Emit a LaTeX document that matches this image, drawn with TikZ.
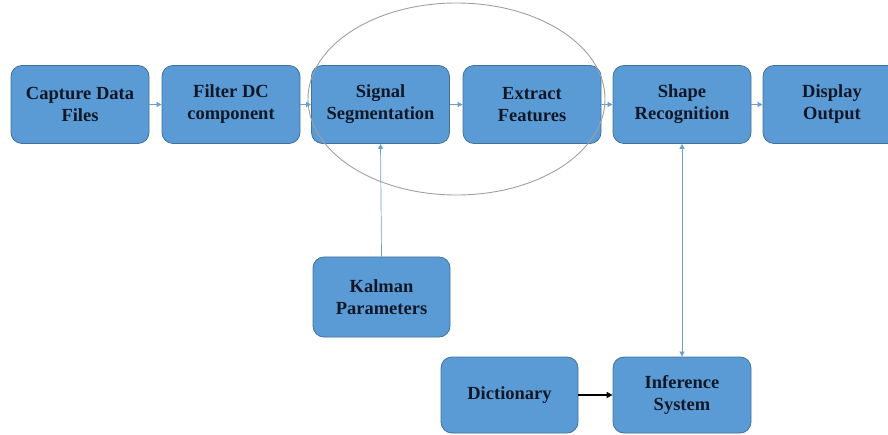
\documentclass[tikz,border=0pt]{standalone}
\usepackage{fontspec}
\setmainfont{Liberation Serif}
\usetikzlibrary{arrows.meta,shapes.geometric}
\definecolor{boxfill}{HTML}{5B9BD5}
\definecolor{boxline}{HTML}{41719C}
\definecolor{txt}{HTML}{101828}
\definecolor{conn}{HTML}{6A9FD0}
\definecolor{ell}{HTML}{A0A0A0}
\begin{document}
\begin{tikzpicture}[x=1pt,y=-1pt,
  blk/.style={draw=boxline,line width=0.8pt,fill=boxfill,rounded corners=11pt,
    minimum width=138pt,minimum height=78pt,inner sep=0pt,align=center,
    font=\fontsize{18.5}{22}\selectfont\bfseries,text=txt},
  flow/.style={draw=conn,line width=0.7pt,-{Triangle[length=5pt,width=5pt]}},
  both/.style={draw=conn,line width=0.7pt,{Triangle[length=5pt,width=5pt]}-{Triangle[length=5pt,width=5pt]}},
  blk2/.style={-{Triangle[length=6pt,width=6pt]},line width=1.1pt,draw=black}]
\useasboundingbox (0,0) rectangle (888,435);
\node[blk] (cap) at (80,104.5) {Capture Data\\Files};
\node[blk] (fil) at (231,104.5) {Filter DC\\component};
\node[blk] (sig) at (380.5,104.5) {Signal\\Segmentation};
\node[blk] (ext) at (532,104.5) {Extract\\Features};
\node[blk] (shp) at (682,104.5) {Shape\\Recognition};
\node[blk] (dis) at (832,104.5) {Display\\Output};
\node[blk,minimum width=137pt,minimum height=80pt] (kal) at (381.5,297) {Kalman\\Parameters};
\node[blk,minimum width=137pt,minimum height=76pt] (dic) at (509.5,395) {Dictionary};
\node[blk,minimum width=138pt,minimum height=76pt] (inf) at (682,395) {Inference\\System};
\node[draw=ell,line width=0.9pt,ellipse,minimum width=297pt,minimum height=192pt,inner sep=0pt] (grp) at (456.5,99) {};
\draw[flow] (cap) -- (fil);
\draw[flow] (fil) -- (sig);
\draw[flow] (sig) -- (ext);
\draw[flow] (ext) -- (shp);
\draw[flow] (shp) -- (dis);
\draw[flow] (kal.north) -- (sig.south);
\draw[both] (shp.south) -- (inf.north);
\draw[blk2] (dic) -- (inf);
\end{tikzpicture}
\end{document}
